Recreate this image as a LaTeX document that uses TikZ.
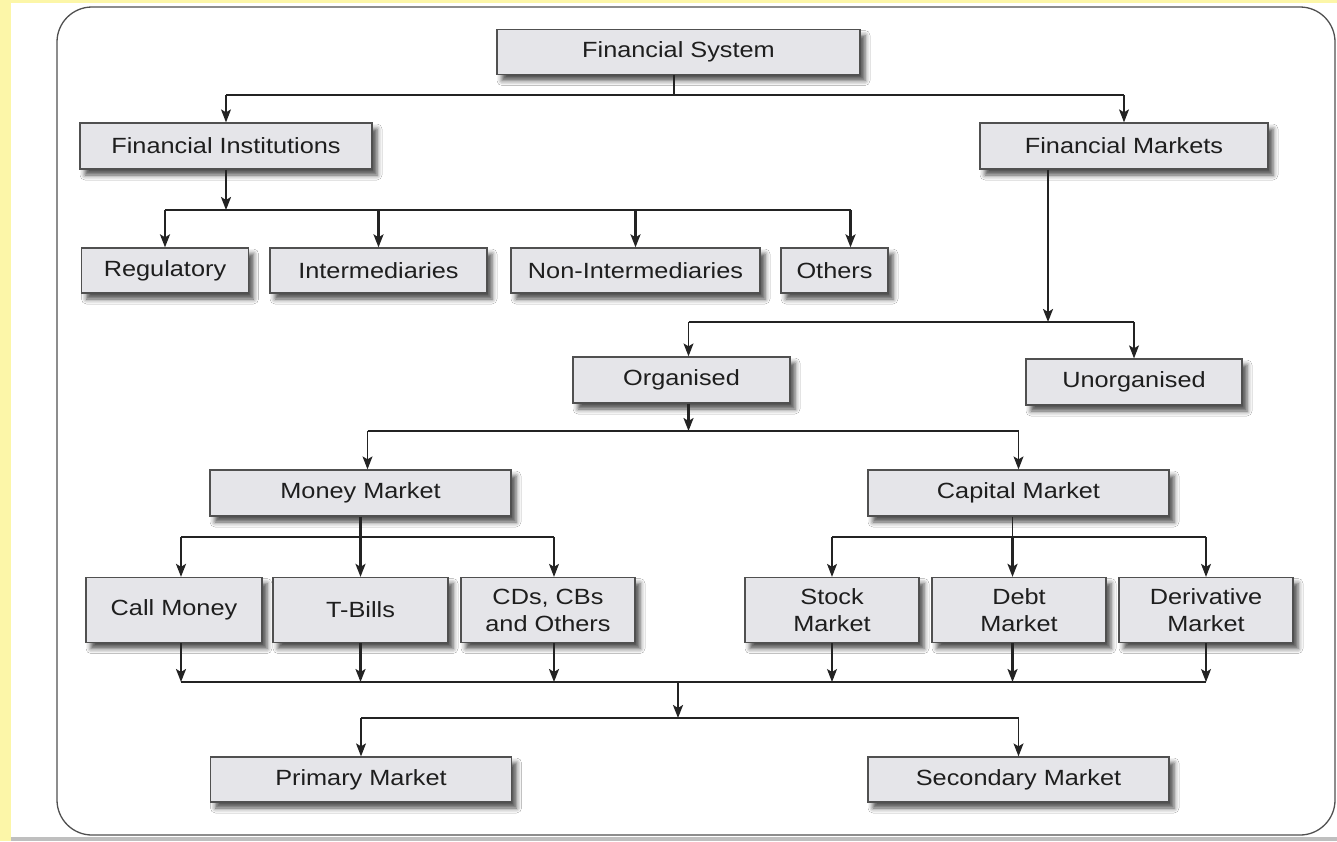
\documentclass[tikz,border=0pt]{standalone}
\usepackage{fontspec}
\setmainfont{Liberation Sans}[FakeStretch=1.15]
\usetikzlibrary{arrows.meta,shadows.blur,calc}
\definecolor{bgyellow}{RGB}{252,246,168}
\definecolor{boxfill}{RGB}{229,229,233}
\definecolor{boxline}{RGB}{80,80,80}
\definecolor{txt}{RGB}{30,30,30}
\definecolor{linec}{RGB}{35,35,35}
\begin{document}
\begin{tikzpicture}[x=1pt,y=-1pt,
  box/.style={draw=boxline, line width=1.3pt, fill=boxfill, text=txt, inner sep=0pt,
    font=\fontsize{22}{27}\selectfont, align=center,
    blur shadow={shadow xshift=5pt, shadow yshift=-6pt, shadow blur radius=5pt, shadow opacity=70}},
  thinln/.style={draw=linec, line width=1.1pt},
  thickln/.style={draw=linec, line width=2.2pt},
  arr/.style={-{Stealth[length=13pt,width=10pt,inset=3pt]}},
]
\useasboundingbox (0,0) rectangle (1337,841);
\fill[bgyellow] (0,0) rectangle (1337,841);
\fill[white] (11,3) rectangle (1337,841);
\fill[black!25] (11,837) rectangle (1337,841);
\draw[boxline, line width=1.3pt, rounded corners=35pt] (57,7) rectangle (1335,835);

% nodes
\node[box, minimum width=363pt, minimum height=45pt] (fs) at (678.5,52) {Financial System};
\node[box, minimum width=292pt, minimum height=46pt] (fi) at (226,146) {Financial Institutions};
\node[box, minimum width=288pt, minimum height=46pt] (fm) at (1124,146) {Financial Markets};
\node[box, minimum width=167pt, minimum height=45pt] (reg) at (165,270.5) {Regulatory};
\node[box, minimum width=217pt, minimum height=45pt] (int) at (378.5,270.5) {Intermediaries};
\node[box, minimum width=249pt, minimum height=45pt] (nonint) at (635.5,270.5) {Non-Intermediaries};
\node[box, minimum width=107pt, minimum height=45pt] (oth) at (834.5,270.5) {Others};
\node[box, minimum width=217pt, minimum height=46pt] (org) at (681.5,380) {Organised};
\node[box, minimum width=216pt, minimum height=46pt] (unorg) at (1134,382) {Unorganised};
\node[box, minimum width=301pt, minimum height=46pt] (mm) at (360.5,493) {Money Market};
\node[box, minimum width=301pt, minimum height=46pt] (cm) at (1018.5,493) {Capital Market};
\node[box, minimum width=176pt, minimum height=65pt] (call) at (174,610) {Call Money};
\node[box, minimum width=175pt, minimum height=65pt] (tb) at (360.5,610) {T-Bills};
\node[box, minimum width=174pt, minimum height=65pt] (cds) at (548,610) {CDs, CBs\\and Others};
\node[box, minimum width=174pt, minimum height=65pt] (stock) at (832,610) {Stock\\Market};
\node[box, minimum width=174pt, minimum height=65pt] (debt) at (1019,610) {Debt\\Market};
\node[box, minimum width=174pt, minimum height=65pt] (deriv) at (1206,610) {Derivative\\Market};
\node[box, minimum width=301pt, minimum height=45pt] (prim) at (361,779.5) {Primary Market};
\node[box, minimum width=301pt, minimum height=45pt] (sec) at (1018.5,779.5) {Secondary Market};

% Financial System split
\coordinate (fsb) at (674,95);
\draw[thinln] (fsb |- fs.south) -- (fsb);
\draw[thinln] (fsb -| fi.north) -- (fsb -| fm.north);
\draw[thinln,arr] (fsb -| fi.north) -- (fi.north);
\draw[thinln,arr] (fsb -| fm.north) -- (fm.north);

% Financial Institutions split
\coordinate (fib) at (226,210);
\coordinate (othx) at ($(oth.north)+(16,0)$);
\draw[thickln,arr] (fi.south) -- (fib);
\draw[thickln] (fib -| reg.north) -- (fib -| othx);
\foreach \n in {reg,int,nonint} \draw[thickln,arr] (fib -| \n.north) -- (\n.north);
\draw[thickln,arr] (fib -| othx) -- (othx);

% Financial Markets split
\coordinate (fmout) at ($(fm.south)+(-76,0)$);
\coordinate (fmb) at (1048,322);
\draw[thickln,arr] (fmout) -- (fmb);
\coordinate (orgin) at ($(org.north)+(7,0)$);
\draw[thinln] (fmb -| orgin) -- (fmb -| unorg.north);
\draw[thinln,arr] (fmb -| orgin) -- (orgin);
\draw[thinln,arr] (fmb -| unorg.north) -- (unorg.north);

% Organised split
\coordinate (orgout) at ($(org.south)+(7,0)$);
\coordinate (orgb) at (688.5,431);
\draw[thickln,arr] (orgout) -- (orgb);
\coordinate (mmin) at ($(mm.north)+(7,0)$);
\draw[thinln] (orgb -| mmin) -- (orgb -| cm.north);
\draw[thinln,arr] (orgb -| mmin) -- (mmin);
\draw[thinln,arr] (orgb -| cm.north) -- (cm.north);

% Money Market split
\coordinate (mmb) at (360.5,537);
\draw[thickln] (mm.south) -- (mmb);
\coordinate (callx) at ($(call.north)+(7,0)$);
\coordinate (cdsx) at ($(cds.north)+(6,0)$);
\draw[thickln] (mmb -| callx) -- (mmb -| cdsx);
\draw[thickln,arr] (mmb -| callx) -- (callx);
\draw[thickln,arr] (mmb -| tb.north) -- (tb.north);
\draw[thinln,arr] (mmb -| cdsx) -- (cdsx);

% Capital Market split
\coordinate (cmout) at ($(cm.south)+(-6,0)$);
\coordinate (cmb) at (1012.5,537);
\draw[thinln] (cmout) -- (cmb);
\coordinate (debtx) at ($(debt.north)+(-6.5,0)$);
\draw[thinln] (cmb -| stock.north) -- (cmb -| deriv.north);
\draw[thinln,arr] (cmb -| stock.north) -- (stock.north);
\draw[thickln,arr] (cmb -| debtx) -- (debtx);
\draw[thinln,arr] (cmb -| deriv.north) -- (deriv.north);

% merge
\coordinate (allb) at (678,682);
\coordinate (callo) at ($(call.south)+(7,0)$);
\coordinate (cdso) at ($(cds.south)+(6,0)$);
\coordinate (debto) at ($(debt.south)+(-6.5,0)$);
\draw[thickln] (allb -| callo) -- (allb -| deriv.south);
\draw[thickln,arr] (callo) -- (allb -| callo);
\draw[thickln,arr] (tb.south) -- (allb -| tb.south);
\draw[thickln,arr] (cdso) -- (allb -| cdso);
\draw[thinln,arr] (stock.south) -- (allb -| stock.south);
\draw[thickln,arr] (debto) -- (allb -| debto);
\draw[thinln,arr] (deriv.south) -- (allb -| deriv.south);

% final split
\coordinate (pb) at (678,718);
\draw[thickln,arr] (allb) -- (pb);
\draw[thinln] (pb -| prim.north) -- (pb -| sec.north);
\draw[thinln,arr] (pb -| prim.north) -- (prim.north);
\draw[thinln,arr] (pb -| sec.north) -- (sec.north);
\end{tikzpicture}
\end{document}
